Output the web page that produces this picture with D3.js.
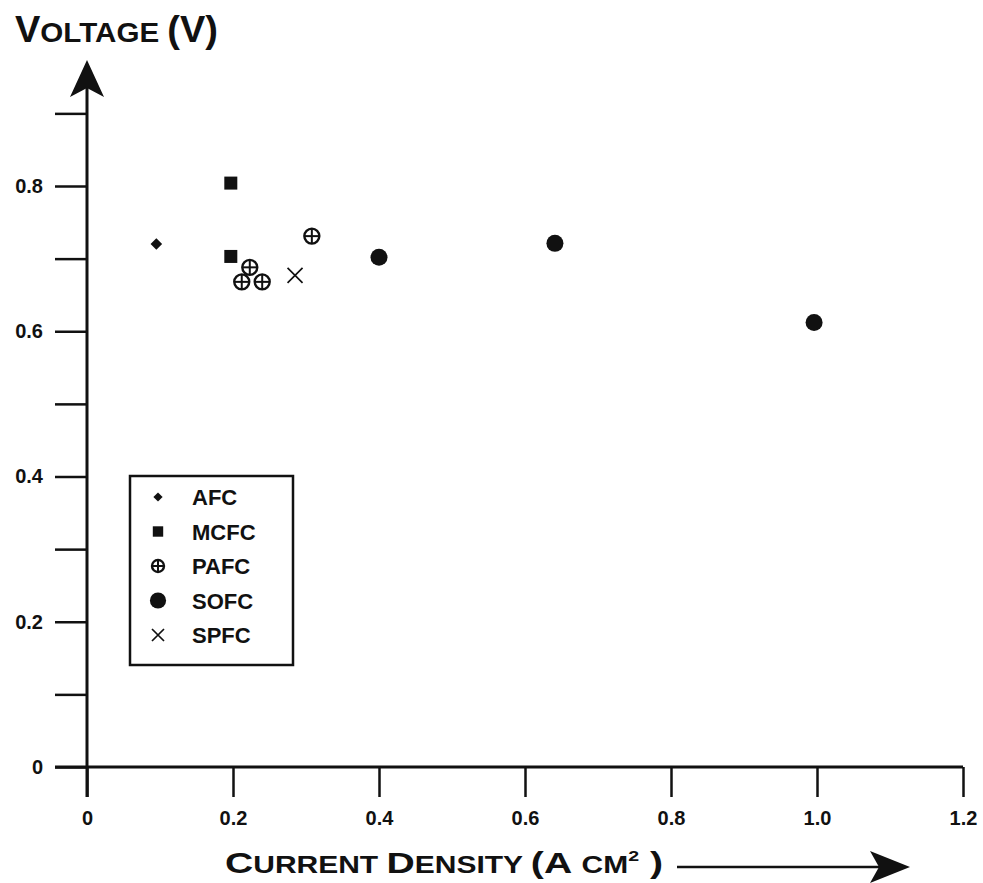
<!DOCTYPE html>
<html>
<head>
<meta charset="utf-8">
<script src="https://cdn.jsdelivr.net/npm/d3@7"></script>
<style>
  body { margin: 0; background: #fff; }
  text { font-family: "Liberation Sans", Arial, sans-serif; font-weight: bold; fill: #111; }
  .narrow { font-family: "Liberation Sans Narrow", "Liberation Sans", Arial, sans-serif; }
</style>
</head>
<body>
<script>
'use strict';

// fuel cell types and their measured points (current density A/cm2, voltage V)
const types = ['AFC', 'MCFC', 'PAFC', 'SOFC', 'SPFC'];
const afcX = [0.095];
const afcY = [0.72];
const mcfcX = [0.197, 0.197];
const mcfcY = [0.804, 0.703];
const pafcX = [0.308, 0.223, 0.212, 0.240];
const pafcY = [0.731, 0.688, 0.668, 0.668];
const sofcX = [0.40, 0.641, 0.996];
const sofcY = [0.702, 0.721, 0.612];
const spfcX = [0.285];
const spfcY = [0.677];

const xTicks = [0, 0.2, 0.4, 0.6, 0.8, 1.0, 1.2];
const yTicks = [0, 0.1, 0.2, 0.3, 0.4, 0.5, 0.6, 0.7, 0.8, 0.9];
const yLabelled = [0, 0.2, 0.4, 0.6, 0.8];

const width = 983;
const height = 883;

const svg = d3.select('body').append('svg')
  .attr('width', width)
  .attr('height', height);

const x = d3.scaleLinear().domain([0, 1.2]).range([87, 963]);
const y = d3.scaleLinear().domain([0, 0.8]).range([767, 186]);

function fmt(d) { return d === 0 ? '0' : d.toFixed(1); }

// x axis
const xAxis = d3.axisBottom(x)
  .tickValues(xTicks)
  .tickSize(30)
  .tickSizeOuter(0)
  .tickPadding(14)
  .tickFormat(fmt);

const gx = svg.append('g')
  .attr('transform', 'translate(0,' + y(0) + ')')
  .call(xAxis);
gx.select('.domain').remove();
gx.selectAll('.tick line').attr('stroke', '#111').attr('stroke-width', 2.5);
gx.selectAll('.tick text').style('font-size', '20px').attr('fill', '#111');

// y axis
const yAxis = d3.axisLeft(y)
  .tickValues(yTicks)
  .tickSize(32)
  .tickSizeOuter(0)
  .tickPadding(12)
  .tickFormat(d => yLabelled.some(v => Math.abs(v - d) < 1e-9) ? fmt(d) : '');

const gy = svg.append('g')
  .attr('transform', 'translate(' + x(0) + ',0)')
  .call(yAxis);
gy.select('.domain').remove();
gy.selectAll('.tick line').attr('stroke', '#111').attr('stroke-width', 2.5);
gy.selectAll('.tick text').style('font-size', '20px').attr('fill', '#111');

// axis lines
svg.append('line')
  .attr('x1', x(0) - 32).attr('x2', x(1.2))
  .attr('y1', y(0)).attr('y2', y(0))
  .attr('stroke', '#111').attr('stroke-width', 3);

const yTop = 60;
svg.append('line')
  .attr('x1', x(0)).attr('x2', x(0))
  .attr('y1', y(0) + 30).attr('y2', yTop + 20)
  .attr('stroke', '#111').attr('stroke-width', 3);

svg.append('path')
  .attr('d', 'M' + x(0) + ',' + yTop + ' L' + (x(0) - 17) + ',' + (yTop + 37) +
    ' L' + x(0) + ',' + (yTop + 28) + ' L' + (x(0) + 17) + ',' + (yTop + 37) + 'Z')
  .attr('fill', '#111');

// titles
const yTitle = svg.append('text').attr('x', 15).attr('y', 42);
yTitle.append('tspan').style('font-size', '36px').text('V');
yTitle.append('tspan').style('font-size', '28px').text('OLTAGE ');
yTitle.append('tspan').style('font-size', '36px').text('(V)');
const yw = yTitle.node().getComputedTextLength();
if (Math.abs(yw - 203) > 4) yTitle.attr('textLength', 203).attr('lengthAdjust', 'spacingAndGlyphs');

const xTitle = svg.append('text').attr('class', 'narrow').attr('x', 225).attr('y', 873);
xTitle.append('tspan').style('font-size', '30px').text('C');
xTitle.append('tspan').style('font-size', '23px').text('URRENT ');
xTitle.append('tspan').style('font-size', '30px').text('D');
xTitle.append('tspan').style('font-size', '23px').text('ENSITY ');
xTitle.append('tspan').style('font-size', '30px').text('(A ');
xTitle.append('tspan').style('font-size', '23px').text('CM');
xTitle.append('tspan').style('font-size', '15px').attr('dy', -12).text('2');
xTitle.append('tspan').style('font-size', '30px').attr('dy', 12).text(' )');
xTitle.attr('textLength', 438).attr('lengthAdjust', 'spacingAndGlyphs');

svg.append('line')
  .attr('x1', 677).attr('x2', 885)
  .attr('y1', 867).attr('y2', 867)
  .attr('stroke', '#111').attr('stroke-width', 2.5);
svg.append('path')
  .attr('d', 'M910,867 L870,851 L879,867 L870,883 Z')
  .attr('fill', '#111');

// marker drawing
function drawMarker(g, type, s) {
  if (type === 'AFC') {
    g.append('path')
      .attr('d', d3.symbol().type(d3.symbolDiamond2).size(85 * s * s))
      .attr('fill', '#111');
  } else if (type === 'MCFC') {
    g.append('rect')
      .attr('x', -6.5 * s).attr('y', -6.5 * s)
      .attr('width', 13 * s).attr('height', 13 * s)
      .attr('fill', '#111');
  } else if (type === 'PAFC') {
    const r = 7.5 * s;
    g.append('circle').attr('r', r)
      .attr('fill', 'none').attr('stroke', '#111').attr('stroke-width', 2.4);
    g.append('line').attr('x1', -r).attr('x2', r)
      .attr('stroke', '#111').attr('stroke-width', 2);
    g.append('line').attr('y1', -r).attr('y2', r)
      .attr('stroke', '#111').attr('stroke-width', 2);
  } else if (type === 'SOFC') {
    g.append('circle').attr('r', 8.5 * s).attr('fill', '#111');
  } else if (type === 'SPFC') {
    const h = 7.5 * s;
    g.append('path')
      .attr('d', 'M' + -h + ',' + -h + 'L' + h + ',' + h + 'M' + -h + ',' + h + 'L' + h + ',' + -h)
      .attr('stroke', '#111').attr('stroke-width', 1.7).attr('fill', 'none');
  }
}

const series = [
  { type: 'AFC', xs: afcX, ys: afcY },
  { type: 'MCFC', xs: mcfcX, ys: mcfcY },
  { type: 'PAFC', xs: pafcX, ys: pafcY },
  { type: 'SOFC', xs: sofcX, ys: sofcY },
  { type: 'SPFC', xs: spfcX, ys: spfcY }
];

series.forEach(function(ser) {
  ser.xs.forEach(function(v, i) {
    const g = svg.append('g')
      .attr('transform', 'translate(' + x(v) + ',' + y(ser.ys[i]) + ')');
    drawMarker(g, ser.type, 1);
  });
});

// legend
svg.append('rect')
  .attr('x', 130).attr('y', 476)
  .attr('width', 163).attr('height', 189)
  .attr('fill', 'none').attr('stroke', '#111').attr('stroke-width', 2.5);

const legendY = d3.scalePoint().domain(types).range([497, 635]);
types.forEach(function(t) {
  const g = svg.append('g')
    .attr('transform', 'translate(158,' + legendY(t) + ')');
  drawMarker(g, t, t === 'SOFC' ? 0.95 : 0.8);
  svg.append('text')
    .attr('x', 192).attr('y', legendY(t) + 8)
    .style('font-size', '22px')
    .text(t);
});
</script>
</body>
</html>
